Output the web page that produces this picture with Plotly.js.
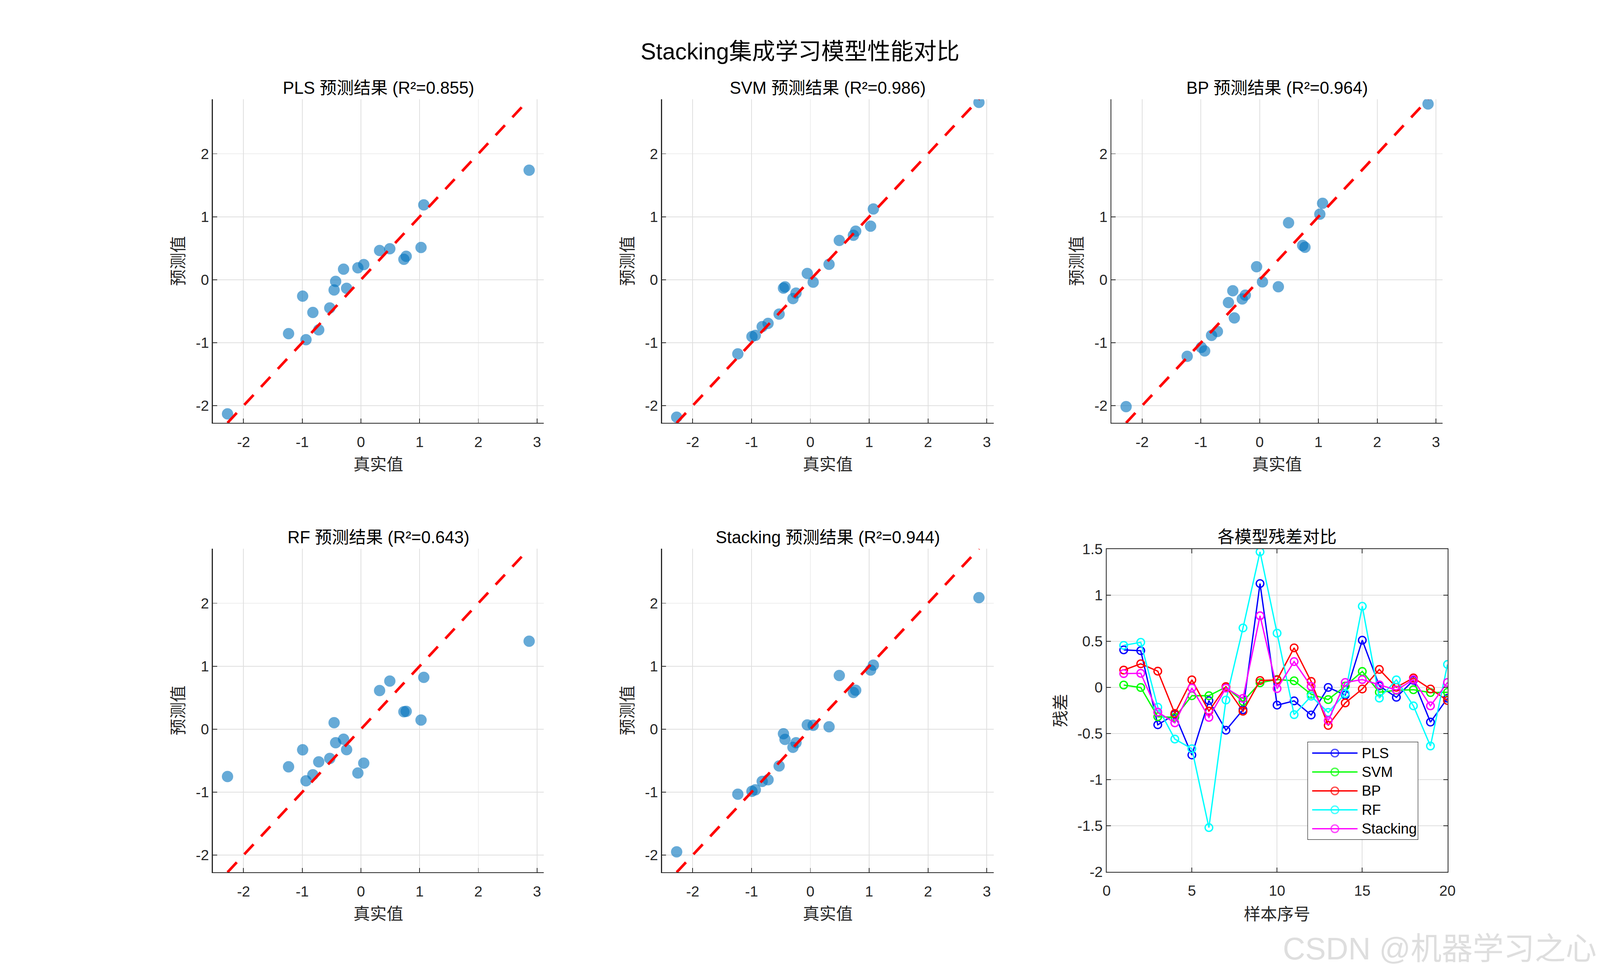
<!DOCTYPE html>
<html>
<head>
<meta charset="utf-8">
<script src="https://cdn.plot.ly/plotly-3.0.1.min.js"></script>
<style>
  html, body { margin: 0; padding: 0; background: #fff; overflow: hidden; }
</style>
</head>
<body>
<div id="chart"></div>
<script>
// ---- data (sample order) ----
const modelNames = ['PLS', 'SVM', 'BP', 'RF', 'Stacking'];
const r2Vals = [0.855, 0.986, 0.964, 0.643, 0.944];
const sampleNo = [1, 2, 3, 4, 5, 6, 7, 8, 9, 10, 11, 12, 13, 14, 15, 16, 17, 18, 19, 20];

const trueVals = [0.732, 0.771, -0.431, -0.457, -0.993, -2.273, -0.296, -0.052, 2.866, 0.048,
                  0.318, -0.819, 0.492, -0.531, 1.024, -0.936, -0.244, -0.719, -1.233, 1.071];

const plsPred = [0.325, 0.373, -0.026, -0.163, -0.260, -2.130, 0.168, 0.190, 1.740, 0.240,
                 0.464, -0.520, 0.492, -0.448, 0.512, -0.952, -0.137, -0.796, -0.857, 1.188];
const svmPred = [0.706, 0.772, -0.113, -0.133, -0.903, -2.183, -0.300, 0.100, 2.816, -0.038,
                 0.246, -0.745, 0.624, -0.546, 0.851, -0.884, -0.212, -0.694, -1.177, 1.124];
const bpPred = [0.544, 0.515, -0.607, -0.175, -1.075, -2.016, -0.305, 0.206, 2.791, -0.034,
                -0.111, -0.884, 0.904, -0.363, 1.041, -1.131, -0.245, -0.822, -1.216, 1.213];
const rfPred = [0.276, 0.282, -0.216, 0.103, -0.328, -0.753, -0.159, -0.697, 1.396, -0.540,
                0.613, -0.724, 0.763, -0.465, 0.144, -0.820, -0.326, -0.519, -0.598, 0.822];
const stackPred = [0.582, 0.618, -0.163, -0.073, -0.986, -1.948, -0.289, 0.067, 2.089, 0.061,
                   0.038, -0.830, 0.852, -0.585, 0.939, -0.964, -0.216, -0.804, -1.033, 1.017];

// tick labels
const trueTicks = [-2, -1, 0, 1, 2, 3];
const trueTickText = ['-2', '-1', '0', '1', '2', '3'];
const predTicks = [-2, -1, 0, 1, 2];
const predTickText = ['-2', '-1', '0', '1', '2'];
const resXTicks = [0, 5, 10, 15, 20];
const resXTickText = ['0', '5', '10', '15', '20'];
const resYTicks = [-2, -1.5, -1, -0.5, 0, 0.5, 1, 1.5];
const resYTickText = ['-2', '-1.5', '-1', '-0.5', '0', '0.5', '1', '1.5'];

// ---- styling / geometry (measured on a 4375x2500 canvas) ----
const W0 = 4375, H0 = 2500;
// the browser window may be narrower than asked (capped width), so draw at its real size
const W = document.documentElement.clientWidth || window.innerWidth || W0;
const H = document.documentElement.clientHeight || window.innerHeight || H0;
const Sx = W / W0, Sy = H / H0;
const Sf = Math.sqrt(Sx * Sy);   // fonts and markers
const sx = v => v * Sx, sy = v => v * Sy, sf = v => v * Sf;

const FONT = '"Liberation Sans", Arial, "Noto Sans CJK SC", sans-serif';
const AX = '#262626';
const GRID = '#dfdfdf';
const lineColors = ['#0000ff', '#00ff00', '#ff0000', '#00ffff', '#ff00ff'];

// pixel boxes of the axes [left, right, top, bottom]
const boxes = [
  [582, 1487, 254, 1082],
  [1810, 2717, 254, 1082],
  [3039, 3945, 254, 1082],
  [582, 1487, 1404, 2232],
  [1810, 2717, 1404, 2232]
];
const resBox = [3026, 3958, 1405, 2231];
const legBox = [3575, 3878, 1898, 2149];

const fx = px => px / W0;
const fy = py => 1 - py / H0;

const preds = [plsPred, svmPred, bpPred, rfPred, stackPred];
const lo = Math.min(...trueVals), hi = Math.max(...trueVals);

const traces = [];
const annotations = [];
const shapes = [];
const layout = {
  width: W, height: H,
  margin: {l: 0, r: 0, t: 0, b: 0},
  paper_bgcolor: '#fff', plot_bgcolor: '#fff',
  showlegend: false,
  font: {family: FONT, color: AX, size: sf(39)}
};

function baseAxis(extra) {
  return Object.assign({
    ticks: 'inside', ticklen: sf(11), tickwidth: sf(2), tickcolor: AX,
    showline: true, linecolor: AX, linewidth: sf(2.5),
    showgrid: true, gridcolor: GRID, gridwidth: sf(2),
    zeroline: false, automargin: false,
    tickfont: {family: FONT, size: sf(39), color: AX}
  }, extra);
}

// scatter subplots
preds.forEach((p, i) => {
  const n = i + 1;
  const xa = 'x' + (n === 1 ? '' : n), ya = 'y' + (n === 1 ? '' : n);
  const b = boxes[i];
  traces.push({
    x: trueVals, y: p, xaxis: xa, yaxis: ya,
    type: 'scatter', mode: 'markers',
    marker: {color: 'rgb(0,114,189)', opacity: 0.6, size: sf(30), line: {width: 0}},
    hoverinfo: 'skip'
  });
  traces.push({
    x: [lo, hi], y: [lo, hi], xaxis: xa, yaxis: ya,
    type: 'scatter', mode: 'lines',
    line: {color: '#ff0000', width: sf(7), dash: sf(36).toFixed(1) + 'px,' + sf(29).toFixed(1) + 'px'},
    hoverinfo: 'skip'
  });
  layout['xaxis' + (n === 1 ? '' : n)] = baseAxis({
    domain: [fx(b[0]), fx(b[1])], anchor: ya,
    range: [lo - 0.25, hi + 0.25],
    tickvals: trueTicks, ticktext: trueTickText,
    ticklabelstandoff: sy(14),
    title: {text: '真实值', font: {family: FONT, size: sf(44), color: AX}, standoff: sy(23)}
  });
  layout['yaxis' + (n === 1 ? '' : n)] = baseAxis({
    domain: [fy(b[3]), fy(b[2])], anchor: xa,
    range: [lo, hi],
    tickvals: predTicks, ticktext: predTickText,
    ticklabelstandoff: sx(9),
    title: {text: '预测值', font: {family: FONT, size: sf(44), color: AX}, standoff: sx(18)}
  });
  annotations.push({
    xref: 'paper', yref: 'paper',
    x: fx((b[0] + b[1]) / 2), y: fy(b[2] - 29),
    xanchor: 'center', yanchor: 'middle', showarrow: false,
    text: modelNames[i] + ' 预测结果 (R²=' + r2Vals[i].toFixed(3) + ')',
    font: {family: FONT, size: sf(45), color: '#000'}
  });
});

// residual subplot
preds.forEach((p, i) => {
  traces.push({
    x: sampleNo, y: trueVals.map((t, k) => t - p[k]),
    xaxis: 'x6', yaxis: 'y6',
    type: 'scatter', mode: 'lines+markers',
    line: {color: lineColors[i], width: sf(3.5)},
    marker: {symbol: 'circle-open', size: sf(20), color: lineColors[i], line: {width: sf(3.5)}},
    hoverinfo: 'skip'
  });
});
layout.xaxis6 = baseAxis({
  domain: [fx(resBox[0]), fx(resBox[1])], anchor: 'y6',
  range: [0, 20], mirror: 'ticks',
  tickvals: resXTicks, ticktext: resXTickText,
  ticklabelstandoff: sy(13),
  title: {text: '样本序号', font: {family: FONT, size: sf(44), color: AX}, standoff: sy(26)}
});
layout.yaxis6 = baseAxis({
  domain: [fy(resBox[3]), fy(resBox[2])], anchor: 'x6',
  range: [-2, 1.5], mirror: 'ticks',
  tickvals: resYTicks, ticktext: resYTickText,
  ticklabelstandoff: sx(8),
  title: {text: '残差', font: {family: FONT, size: sf(44), color: AX}, standoff: sx(15)}
});
annotations.push({
  xref: 'paper', yref: 'paper',
  x: fx((resBox[0] + resBox[1]) / 2), y: fy(resBox[2] - 31),
  xanchor: 'center', yanchor: 'middle', showarrow: false,
  text: '各模型残差对比',
  font: {family: FONT, size: sf(45), color: '#000'}
});

// legend drawn on its own small axes, so the line samples can be long like the original
const lw = legBox[1] - legBox[0], lh = legBox[3] - legBox[2];
layout.xaxis7 = {domain: [fx(legBox[0]), fx(legBox[1])], range: [0, lw], anchor: 'y7',
  visible: false, fixedrange: true};
layout.yaxis7 = {domain: [fy(legBox[3]), fy(legBox[2])], range: [lh, 0], anchor: 'x7',
  visible: false, fixedrange: true};
shapes.push({type: 'rect', xref: 'x7', yref: 'y7', x0: 0, x1: lw, y0: 0, y1: lh,
  line: {color: AX, width: sf(2.5)}, fillcolor: '#fff', layer: 'between'});
modelNames.forEach((name, i) => {
  const yy = 29 + i * 48.4;
  traces.push({
    x: [13, 75, 137], y: [yy, yy, yy], xaxis: 'x7', yaxis: 'y7',
    type: 'scatter', mode: 'lines+markers',
    line: {color: lineColors[i], width: sf(3.5)},
    marker: {symbol: 'circle-open', size: [0, sf(20), 0], color: lineColors[i], line: {width: sf(3.5)}},
    hoverinfo: 'skip'
  });
  annotations.push({
    xref: 'x7', yref: 'y7', x: 146, y: yy,
    xanchor: 'left', yanchor: 'middle', showarrow: false,
    text: name, font: {family: FONT, size: sf(38), color: '#000'}
  });
});

// main title
annotations.push({
  xref: 'paper', yref: 'paper', x: 0.5, y: fy(132),
  xanchor: 'center', yanchor: 'middle', showarrow: false,
  text: 'Stacking集成学习模型性能对比',
  font: {family: FONT, size: sf(61), color: '#000'}
});

// watermark
annotations.push({
  xref: 'paper', yref: 'paper', x: fx(4368), y: fy(2427),
  xanchor: 'right', yanchor: 'middle', showarrow: false,
  text: 'CSDN @机器学习之心',
  font: {family: FONT, size: sf(82), color: 'rgb(222,222,222)'}
});

layout.annotations = annotations;
layout.shapes = shapes;

Plotly.newPlot('chart', traces, layout, {staticPlot: true, displayModeBar: false});
</script>
</body>
</html>
